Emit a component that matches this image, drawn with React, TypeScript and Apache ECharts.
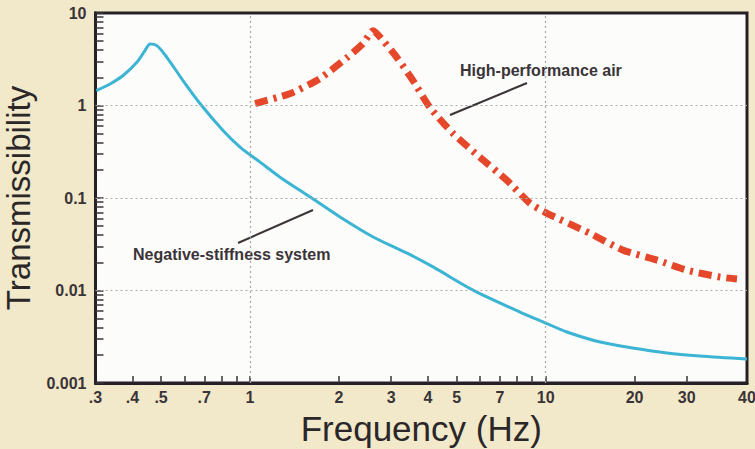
import React, { useEffect, useRef } from 'react';
import * as echarts from 'echarts';

// Frequency (Hz) and transmissibility
const FREQ_STIFF = [0.302, 0.336, 0.372, 0.414, 0.441, 0.459, 0.484, 0.523, 0.593, 0.677, 0.81, 0.925, 1.081, 1.263, 1.596, 2.015, 2.61, 3.4, 4.16, 5.68, 8.19, 10.0, 11.8, 15.3, 19.7, 25.7, 33.2, 48.0];
const T_STIFF = [1.45, 1.71, 2.11, 2.93, 3.92, 4.63, 4.44, 3.32, 1.86, 1.05, 0.537, 0.355, 0.244, 0.168, 0.1026, 0.0624, 0.0379, 0.0253, 0.018, 0.0101, 0.00585, 0.00445, 0.00356, 0.00277, 0.00239, 0.00211, 0.00196, 0.00182];

const FREQ_AIR = [1.04, 1.37, 1.72, 2.13, 2.41, 2.61, 2.82, 3.14, 3.56, 4.06, 4.86, 6.0, 7.4, 8.85, 10.1, 14.1, 18.3, 23.8, 30.0, 38.8, 44.4];
const T_AIR = [1.05, 1.35, 1.95, 3.3, 4.67, 6.44, 5.02, 3.3, 1.86, 0.952, 0.499, 0.275, 0.155, 0.0877, 0.0684, 0.0416, 0.0273, 0.0213, 0.0166, 0.014, 0.0133];

// Axis tick labels and the axis positions they sit at (the right end of the drawn axis is labelled 40)
const X_TICK_LABELS = ['.3', '.4', '.5', '.7', '1', '2', '3', '4', '5', '7', '10', '20', '30', '40'];
const X_TICK_AT = [0.3, 0.4, 0.5, 0.7, 1, 2, 3, 4, 5, 7, 10, 20, 30, 48];
const X_MINOR_AT = [0.4, 0.5, 0.6, 0.7, 0.8, 0.9, 1, 2, 3, 4, 5, 6, 7, 8, 9, 10, 20, 30];
const X_MIN = 0.3;
const X_MAX = 48;

const Y_TICK_LABELS = ['0.001', '0.01', '0.1', '1', '10'];
const Y_TICK_AT = [0.001, 0.01, 0.1, 1, 10];
const Y_MINOR_MULT = [1, 2, 3, 4, 5, 6, 7, 8, 9];

const X_GRID = [1, 10];
const Y_GRID = [1, 0.1, 0.01];

const LABEL_STIFF = 'Negative-stiffness system';
const LABEL_AIR = 'High-performance air';

const lg = (v: number) => Math.log10(v);

export default function App() {
  const ref = useRef<HTMLDivElement>(null);
  useEffect(() => {
    if (!ref.current) return;
    const chart = echarts.init(ref.current, undefined, { renderer: 'svg' });
    const yMinor: number[] = [];
    for (let d = 0.001; d < 10; d *= 10) {
      for (const m of Y_MINOR_MULT) yMinor.push(lg(d * m));
    }
    yMinor.push(lg(10));
    const xLabelFmt = (v: number) => {
      const i = X_TICK_AT.findIndex((p) => Math.abs(lg(p) - v) < 1e-6);
      return i >= 0 ? X_TICK_LABELS[i] : '';
    };
    const yLabelFmt = (v: number) => {
      const i = Y_TICK_AT.findIndex((p) => Math.abs(lg(p) - v) < 1e-6);
      return i >= 0 ? Y_TICK_LABELS[i] : '';
    };
    const tickFont = {
      fontFamily: "'Liberation Sans', Arial, sans-serif",
      fontWeight: 'bold' as const,
      fontSize: 16,
      color: '#3a3438',
    };
    const textColor = '#2b2729';
    chart.setOption({
      animation: false,
      backgroundColor: '#f1e9c9',
      grid: {
        left: 95.5,
        right: 8,
        top: 13,
        bottom: 66,
        show: true,
        outerBoundsMode: 'none',
        containLabel: false,
        backgroundColor: '#fcfcfa',
        borderColor: '#262026',
        borderWidth: 3,
      },
      xAxis: {
        type: 'value',
        min: lg(X_MIN),
        max: lg(X_MAX),
        name: 'Frequency (Hz)',
        nameLocation: 'middle',
        nameGap: 28,
        nameTextStyle: {
          fontFamily: "'Liberation Sans', Arial, sans-serif",
          fontSize: 35,
          color: textColor,
        },
        axisLine: { show: true, onZero: false, lineStyle: { color: '#262026', width: 3 } },
        axisTick: {
          show: true,
          inside: true,
          length: 7,
          customValues: X_MINOR_AT.map(lg),
          lineStyle: { color: '#3a3438', width: 1.5 },
        },
        axisLabel: {
          show: true,
          customValues: X_TICK_AT.map(lg),
          formatter: xLabelFmt,
          margin: 6,
          hideOverlap: false,
          ...tickFont,
        },
        splitLine: { show: false },
      },
      yAxis: {
        type: 'value',
        min: lg(0.001),
        max: lg(10),
        name: 'Transmissibility',
        nameLocation: 'middle',
        nameGap: 50,
        nameTextStyle: {
          fontFamily: "'Liberation Sans', Arial, sans-serif",
          fontSize: 33,
          lineHeight: 34,
          color: textColor,
        },
        axisLine: { show: true, onZero: false, lineStyle: { color: '#262026', width: 3 } },
        axisTick: {
          show: true,
          inside: true,
          length: 8,
          customValues: yMinor,
          lineStyle: { color: '#3a3438', width: 1.5 },
        },
        axisLabel: {
          show: true,
          customValues: Y_TICK_AT.map(lg),
          formatter: yLabelFmt,
          margin: 9,
          ...tickFont,
        },
        splitLine: { show: false },
      },
      graphic: [
        {
          type: 'text',
          left: 460,
          top: 62,
          style: { text: LABEL_AIR, ...tickFont, fill: '#3a3438' },
        },
        {
          type: 'line',
          shape: { x1: 450, y1: 115, x2: 527, y2: 83 },
          style: { stroke: '#3a3438', lineWidth: 2 },
        },
        {
          type: 'text',
          left: 133,
          top: 246,
          style: { text: LABEL_STIFF, ...tickFont, fill: '#3a3438' },
        },
        {
          type: 'line',
          shape: { x1: 238, y1: 243, x2: 313, y2: 210 },
          style: { stroke: '#3a3438', lineWidth: 2 },
        },
      ],
      series: [
        {
          type: 'line',
          data: [],
          silent: true,
          markLine: {
            silent: true,
            symbol: 'none',
            label: { show: false },
            lineStyle: { color: '#a8a8a8', width: 1.2, type: [2, 3] },
            data: [
              ...X_GRID.map((v) => ({ xAxis: lg(v) })),
              ...Y_GRID.map((v) => ({ yAxis: lg(v) })),
            ],
          },
        },
        {
          name: LABEL_STIFF,
          type: 'line',
          data: FREQ_STIFF.map((f, i) => [lg(f), lg(T_STIFF[i])]),
          showSymbol: false,
          smooth: 0.3,
          lineStyle: { color: '#3cb4d4', width: 3 },
        },
        {
          name: LABEL_AIR,
          type: 'line',
          data: FREQ_AIR.map((f, i) => [lg(f), lg(T_AIR[i])]),
          showSymbol: false,
          smooth: 0.2,
          lineStyle: { color: '#e5472a', width: 7, type: [13, 6, 3, 6], cap: 'butt' },
        },
      ],
    });
    return () => chart.dispose();
  }, []);
  return (
    <div
      ref={ref}
      style={{ position: 'fixed', left: 0, top: 0, width: 755, height: 449 }}
    />
  );
}
